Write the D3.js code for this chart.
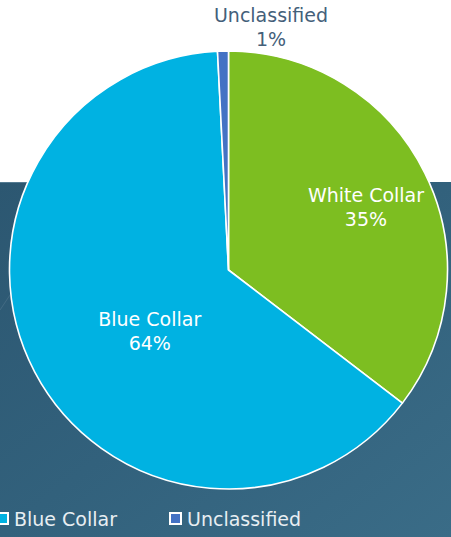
<!DOCTYPE html>
<html lang="en">
  <head>
    <meta charset="UTF-8" />
    <title>Workforce by Collar</title>
    <script src="https://d3js.org/d3.v7.min.js"></script>
    <style>
      html, body { margin: 0; padding: 0; background: #fff; }
      svg { display: block; font-family: "DejaVu Sans", sans-serif; }
    </style>
  </head>
  <body>
    <script>
      // chart data
      const categories = ["White Collar", "Blue Collar", "Unclassified"];
      const shares = [35.4, 63.8, 0.8];
      const pctLabels = ["35%", "64%", "1%"];
      const colors = ["#7dbe21", "#00b2e2", "#4472c4"];

      const W = 451, H = 537;
      const cx = 228.5, cy = 270, R = 219;

      const svg = d3.select("body").append("svg")
        .attr("width", W).attr("height", H);

      // backdrop: white top, dark blue photo-ish band below
      const defs = svg.append("defs");
      const grad = defs.append("linearGradient").attr("id", "bg")
        .attr("x1", 0).attr("y1", 0).attr("x2", 1).attr("y2", 1);
      grad.append("stop").attr("offset", "0%").attr("stop-color", "#2c5771");
      grad.append("stop").attr("offset", "50%").attr("stop-color", "#32617c");
      grad.append("stop").attr("offset", "100%").attr("stop-color", "#3a6c87");

      svg.append("rect").attr("x", 0).attr("y", 182).attr("width", W).attr("height", H - 182)
        .attr("fill", "url(#bg)");
      // faint lines like the photo behind
      svg.append("line").attr("x1", 0).attr("y1", 310).attr("x2", 40).attr("y2", 250)
        .attr("stroke", "#ffffff").attr("stroke-opacity", 0.1);
      svg.append("line").attr("x1", 0).attr("y1", 182.5).attr("x2", 75).attr("y2", 182.5)
        .attr("stroke", "#6f93a8").attr("stroke-opacity", 0.6);

      const pie = d3.pie().sort(null).value(d => d)(shares);
      const arc = d3.arc().innerRadius(0).outerRadius(R);

      const g = svg.append("g").attr("transform", `translate(${cx},${cy})`);

      g.selectAll("path.slice")
        .data(pie)
        .join("path")
        .attr("class", "slice")
        .attr("d", arc)
        .attr("fill", (d, i) => colors[i])
        .attr("stroke", "#ffffff")
        .attr("stroke-width", 1.6)
        .attr("stroke-linejoin", "round");

      // label placement (PowerPoint "best fit" look)
      const labelArc = d3.arc().innerRadius(0).outerRadius(R * 1.38);
      const nudge = {
        "White Collar": [2, 11],
        "Blue Collar": [55, -2]
      };

      pie.forEach((d, i) => {
        const name = categories[i];
        let x, y, fill;
        if (name === "Unclassified") {
          // outside, above the slice
          x = 271 - cx;
          y = 22 - cy;
          fill = "#44607a";
        } else {
          const c = labelArc.centroid(d);
          x = c[0] + nudge[name][0];
          y = c[1] + nudge[name][1] - 12;
          fill = "#ffffff";
        }
        const t = g.append("text")
          .attr("text-anchor", "middle")
          .attr("fill", fill)
          .attr("font-size", 19);
        t.append("tspan").attr("x", x).attr("y", y).text(name);
        t.append("tspan").attr("x", x).attr("y", y + 24).text(pctLabels[i]);
      });

      // legend, clipped on the left like the source
      const legendX = d3.scalePoint().domain(categories).range([-176, 170]);
      const leg = svg.append("g").selectAll("g")
        .data(categories)
        .join("g")
        .attr("transform", d => `translate(${legendX(d)},513)`);

      leg.append("rect")
        .attr("x", 0).attr("y", 0).attr("width", 11).attr("height", 11)
        .attr("fill", (d, i) => colors[i])
        .attr("stroke", "#ffffff").attr("stroke-width", 2);
      leg.append("text")
        .attr("x", 17).attr("y", 13)
        .attr("fill", "#e8eef2")
        .attr("font-size", 19)
        .text(d => d);
    </script>
  </body>
</html>
